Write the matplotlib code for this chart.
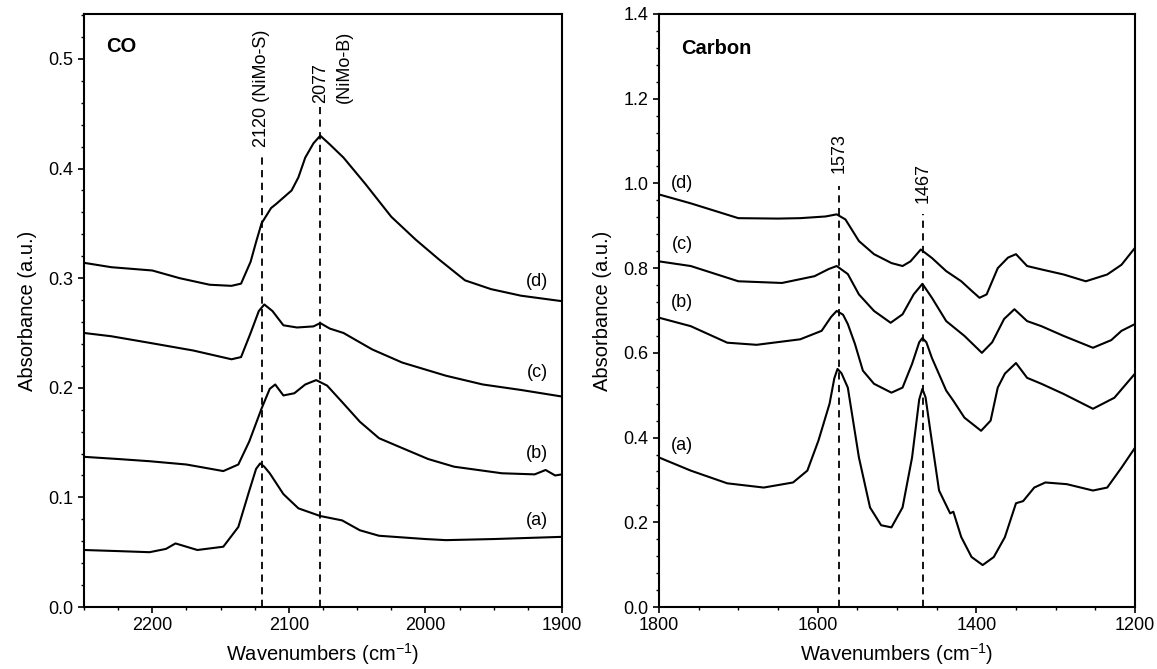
import matplotlib
matplotlib.use("Agg")
import matplotlib.pyplot as plt
from matplotlib.ticker import MultipleLocator

plt.rcParams['font.family'] = ['Liberation Sans', 'DejaVu Sans']
plt.rcParams['mathtext.default'] = 'regular'

# ---------------- CO panel data ----------------
co_d_x = [2250, 2230, 2200, 2180, 2158, 2142, 2135, 2128, 2124, 2120, 2113, 2109, 2098, 2093, 2088, 2082, 2077, 2070, 2060, 2044, 2025, 2007, 1990, 1971, 1952, 1930, 1900]
co_d_y = [0.314, 0.310, 0.307, 0.300, 0.294, 0.293, 0.295, 0.315, 0.333, 0.350, 0.364, 0.368, 0.380, 0.392, 0.410, 0.423, 0.430, 0.422, 0.410, 0.386, 0.356, 0.335, 0.317, 0.298, 0.290, 0.284, 0.279]

co_c_x = [2250, 2230, 2202, 2170, 2142, 2135, 2128, 2122, 2118, 2112, 2104, 2094, 2082, 2077, 2070, 2060, 2039, 2017, 1985, 1958, 1930, 1900]
co_c_y = [0.250, 0.247, 0.241, 0.234, 0.226, 0.228, 0.250, 0.270, 0.276, 0.270, 0.257, 0.255, 0.256, 0.259, 0.254, 0.250, 0.235, 0.223, 0.211, 0.203, 0.198, 0.192]

co_b_x = [2250, 2225, 2202, 2175, 2148, 2137, 2129, 2120, 2114, 2110, 2104, 2096, 2088, 2080, 2072, 2061, 2048, 2034, 2017, 1998, 1979, 1944, 1920, 1912, 1905, 1900]
co_b_y = [0.137, 0.135, 0.133, 0.130, 0.124, 0.130, 0.151, 0.181, 0.199, 0.203, 0.193, 0.195, 0.203, 0.207, 0.202, 0.187, 0.169, 0.154, 0.145, 0.135, 0.128, 0.122, 0.121, 0.125, 0.120, 0.121]

co_a_x = [2250, 2225, 2202, 2190, 2183, 2175, 2167, 2148, 2137, 2129, 2124, 2121, 2118, 2114, 2104, 2093, 2077, 2061, 2048, 2034, 2000, 1985, 1950, 1900]
co_a_y = [0.052, 0.051, 0.050, 0.053, 0.058, 0.055, 0.052, 0.055, 0.073, 0.106, 0.126, 0.131, 0.128, 0.122, 0.103, 0.090, 0.083, 0.079, 0.070, 0.065, 0.062, 0.061, 0.062, 0.064]

# ---------------- Carbon panel data ----------------
c_d_x = [1800, 1760, 1700, 1650, 1622, 1590, 1576, 1565, 1548, 1529, 1507, 1493, 1483, 1470, 1456, 1438, 1419, 1405, 1396, 1387, 1373, 1360, 1350, 1336, 1318, 1290, 1262, 1235, 1217, 1200]
c_d_y = [0.974, 0.953, 0.918, 0.917, 0.918, 0.922, 0.927, 0.915, 0.864, 0.833, 0.812, 0.805, 0.816, 0.844, 0.824, 0.793, 0.769, 0.745, 0.730, 0.738, 0.800, 0.825, 0.833, 0.805, 0.797, 0.785, 0.769, 0.785, 0.808, 0.848]

c_c_x = [1800, 1760, 1700, 1645, 1604, 1586, 1576, 1562, 1548, 1529, 1508, 1493, 1479, 1468, 1456, 1438, 1415, 1393, 1380, 1365, 1352, 1336, 1318, 1290, 1253, 1230, 1217, 1200]
c_c_y = [0.816, 0.805, 0.769, 0.765, 0.781, 0.798, 0.805, 0.786, 0.738, 0.699, 0.671, 0.691, 0.738, 0.763, 0.730, 0.675, 0.640, 0.600, 0.625, 0.680, 0.703, 0.675, 0.663, 0.640, 0.612, 0.630, 0.652, 0.668]

c_b_x = [1800, 1760, 1714, 1677, 1622, 1595, 1583, 1576, 1568, 1562, 1553, 1543, 1529, 1507, 1493, 1481, 1472, 1468, 1463, 1456, 1438, 1429, 1415, 1394, 1382, 1373, 1364, 1350, 1336, 1318, 1290, 1253, 1226, 1200]
c_b_y = [0.683, 0.663, 0.624, 0.619, 0.632, 0.652, 0.685, 0.699, 0.690, 0.668, 0.621, 0.558, 0.527, 0.506, 0.518, 0.574, 0.625, 0.635, 0.625, 0.588, 0.511, 0.487, 0.447, 0.416, 0.440, 0.518, 0.551, 0.576, 0.541, 0.527, 0.503, 0.468, 0.494, 0.551]

c_a_x = [1800, 1760, 1714, 1668, 1631, 1613, 1599, 1585, 1579, 1575, 1570, 1562, 1548, 1534, 1520, 1507, 1493, 1481, 1472, 1468, 1464, 1458, 1447, 1433, 1429, 1419, 1406, 1392, 1378, 1364, 1350, 1341, 1327, 1313, 1286, 1253, 1235, 1217, 1200]
c_a_y = [0.353, 0.322, 0.292, 0.282, 0.294, 0.322, 0.393, 0.480, 0.540, 0.562, 0.552, 0.518, 0.353, 0.235, 0.193, 0.188, 0.235, 0.353, 0.490, 0.515, 0.495, 0.416, 0.275, 0.221, 0.225, 0.165, 0.118, 0.099, 0.118, 0.165, 0.245, 0.250, 0.282, 0.294, 0.290, 0.275, 0.282, 0.329, 0.376]

co_peaks = [2120, 2077]
co_peak_tops = [0.411, 0.456]
c_peaks = [1573, 1467]
c_peak_tops = [0.993, 0.927]
series_labels = ['(a)', '(b)', '(c)', '(d)']

fig = plt.figure(figsize=(11.57, 6.69), dpi=100)
ax1 = fig.add_axes([84/1157, 62/669, 478/1157, 593/669])
ax2 = fig.add_axes([659/1157, 62/669, 476/1157, 593/669])

lw = 1.5
for xs, ys in [(co_a_x, co_a_y), (co_b_x, co_b_y), (co_c_x, co_c_y), (co_d_x, co_d_y)]:
    ax1.plot(xs, ys, color='black', lw=lw)
for xs, ys in [(c_a_x, c_a_y), (c_b_x, c_b_y), (c_c_x, c_c_y), (c_d_x, c_d_y)]:
    ax2.plot(xs, ys, color='black', lw=lw)

for x, top in zip(co_peaks, co_peak_tops):
    ax1.plot([x, x], [0, top], color='black', lw=1.3, ls=(0, (4, 3)))
for x, top in zip(c_peaks, c_peak_tops):
    ax2.plot([x, x], [0, top], color='black', lw=1.3, ls=(0, (4, 3)))

fs_lab = 13
ax1.text(2120, 0.42, '2120 (NiMo-S)', rotation=90, ha='center', va='bottom', fontsize=fs_lab)
ax1.text(2077, 0.46, '2077', rotation=90, ha='center', va='bottom', fontsize=fs_lab)
ax1.text(2059, 0.46, '(NiMo-B)', rotation=90, ha='center', va='bottom', fontsize=fs_lab)
ax2.text(1573, 1.024, '1573', rotation=90, ha='center', va='bottom', fontsize=fs_lab)
ax2.text(1467, 0.953, '1467', rotation=90, ha='center', va='bottom', fontsize=fs_lab)

co_lab_y = [0.079, 0.140, 0.214, 0.297]
for lab, y in zip(series_labels, co_lab_y):
    ax1.text(1918, y, lab, ha='center', va='center', fontsize=fs_lab)
c_lab_y = [0.381, 0.718, 0.856, 1.0]
for lab, y in zip(series_labels, c_lab_y):
    ax2.text(1771, y, lab, ha='center', va='center', fontsize=fs_lab)

ax1.text(2234, 0.511, 'CO', ha='left', va='center', fontsize=14.5, fontweight='bold')
ax2.text(1772, 1.318, 'Carbon', ha='left', va='center', fontsize=14.5, fontweight='bold')

ax1.set_xlim(2250, 1900)
ax1.set_ylim(0, 0.541)
ax2.set_xlim(1800, 1200)
ax2.set_ylim(0, 1.4)

ax1.xaxis.set_major_locator(MultipleLocator(100))
ax1.xaxis.set_minor_locator(MultipleLocator(25))
ax1.yaxis.set_major_locator(MultipleLocator(0.1))
ax1.yaxis.set_minor_locator(MultipleLocator(0.02))
ax1.yaxis.set_major_formatter(plt.FormatStrFormatter('%.1f'))
ax2.xaxis.set_major_locator(MultipleLocator(200))
ax2.xaxis.set_minor_locator(MultipleLocator(50))
ax2.yaxis.set_major_locator(MultipleLocator(0.2))
ax2.yaxis.set_minor_locator(MultipleLocator(0.04))
ax2.yaxis.set_major_formatter(plt.FormatStrFormatter('%.1f'))

for ax in (ax1, ax2):
    ax.tick_params(which='major', direction='out', length=4, width=1.2, labelsize=13, top=False, right=False)
    ax.tick_params(which='minor', direction='out', length=2.5, width=1.0, top=False, right=False)
    for s in ax.spines.values():
        s.set_linewidth(1.5)
    ax.set_xlabel('Wavenumbers (cm$^{-1}$)', fontsize=14.5, labelpad=5)
    ax.set_ylabel('Absorbance (a.u.)', fontsize=14.5, labelpad=8)

fig.savefig('out.png', dpi=100)
